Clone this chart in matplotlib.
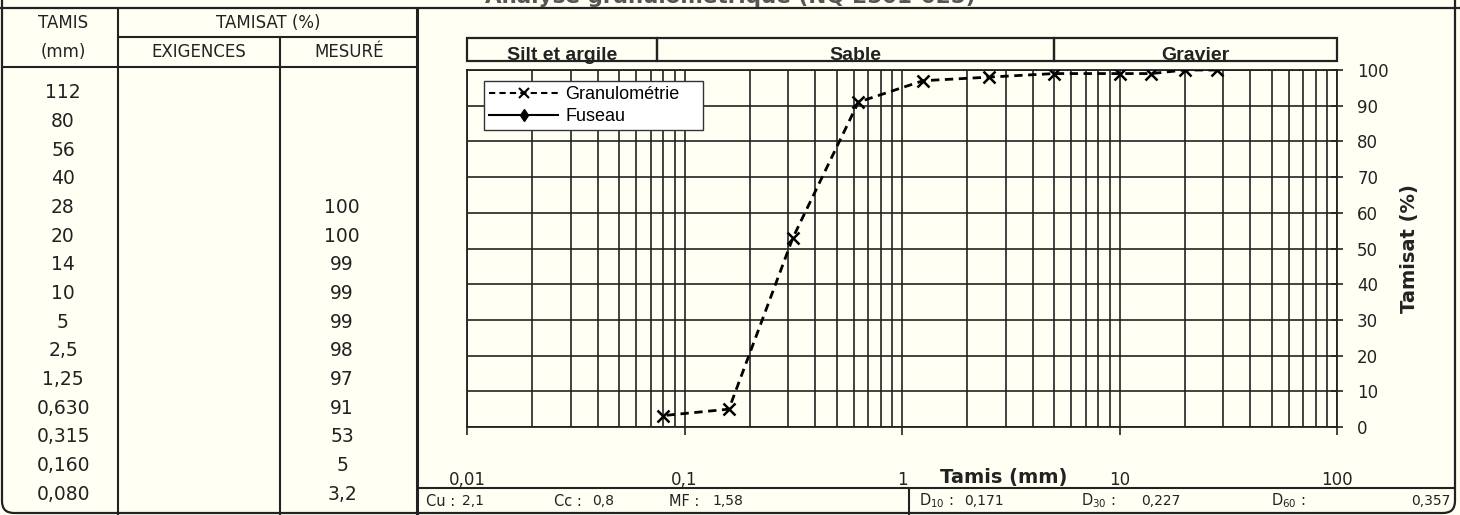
import numpy as np
import matplotlib
matplotlib.use('Agg')
import matplotlib.pyplot as plt
from matplotlib.patches import FancyBboxPatch, Rectangle
from matplotlib.lines import Line2D

# --- data ---
table_tamis = ['112', '80', '56', '40', '28', '20', '14', '10', '5',
               '2,5', '1,25', '0,630', '0,315', '0,160', '0,080']
table_mesure = ['', '', '', '', '100', '100', '99', '99', '99',
                '98', '97', '91', '53', '5', '3,2']

tamis_mm = [28, 20, 14, 10, 5, 2.5, 1.25, 0.63, 0.315, 0.16, 0.08]
tamisat = [100, 100, 99, 99, 99, 98, 97, 91, 53, 5, 3.2]

zone_names = ['Silt et argile', 'Sable', 'Gravier']
zone_edges = [0.01, 0.075, 5, 100]

stats_left = [('Cu :', '2,1'), ('Cc :', '0,8'), ('MF :', '1,58')]
stats_right = [('10', '0,171'), ('30', '0,227'), ('60', '0,357')]

title = 'Analyse granulométrique (NQ 2501-025)'

# --- page layout (pixels, origin top-left) ---
W, H = 1460, 515
BG = '#fffff4'
INK = '#222222'
ax_l, ax_r, ax_t, ax_b = 467, 1337, 70, 427

fig = plt.figure(figsize=(W / 100, H / 100), dpi=100, facecolor=BG)

bg = fig.add_axes([0, 0, 1, 1], zorder=0)
bg.set_xlim(0, W)
bg.set_ylim(H, 0)
bg.axis('off')

def hline(y, x0, x1, lw=1.5):
    bg.plot([x0, x1], [y, y], color=INK, lw=lw, solid_capstyle='butt')

def vline(x, y0, y1, lw=1.5):
    bg.plot([x, x], [y0, y1], color=INK, lw=lw, solid_capstyle='butt')

# outer frame with rounded bottom corners
bg.add_patch(FancyBboxPatch((2, -40), 1453, 553, boxstyle='round,pad=0,rounding_size=12',
                            fc='none', ec=INK, lw=1.6))
hline(8, 0, W, lw=1.6)
vline(118, 8, 515)
vline(280, 37, 515)
vline(417, 8, 515, lw=2.2)
hline(37, 118, 417)
hline(67, 2, 417)
hline(488, 417, 1455)
vline(909, 488, 515)

# title, mostly cropped by the top edge
bg.text(730, 3, title, ha='center', va='baseline', fontsize=15.5, fontweight='bold',
        color='#555555', family='DejaVu Sans')

# table header
tkw = dict(ha='center', va='center', color=INK, family='DejaVu Sans')
bg.text(63, 23, 'TAMIS', fontsize=12, **tkw)
bg.text(63, 52, '(mm)', fontsize=12, **tkw)
bg.text(268, 23, 'TAMISAT (%)', fontsize=12, **tkw)
bg.text(199, 52, 'EXIGENCES', fontsize=12, **tkw)
bg.text(349, 52, 'MESURÉ', fontsize=12, **tkw)

# table body
for i, (t, m) in enumerate(zip(table_tamis, table_mesure)):
    y = 93 + i * 28.65
    bg.text(63, y, t, fontsize=13.5, **tkw)
    bg.text(342, y, m, fontsize=13.5, **tkw)

# stats strip
lkw = dict(ha='left', va='center', color=INK, family='DejaVu Sans', fontsize=10.5)
vkw = dict(ha='left', va='center', color=INK, family='DejaVu Sans', fontsize=10)
for (lab, val), x0, x1 in zip(stats_left, [426, 554, 669], [462, 592, 712]):
    bg.text(x0, 501, lab, **lkw)
    bg.text(x1, 501, val, **vkw)
for (sub, val), x0, x1 in zip(stats_right, [919, 1081, 1271], [964, 1141, 1411]):
    bg.text(x0, 501, r'D$_{\mathregular{%s}}$ :' % sub, **lkw)
    bg.text(x1, 501, val, **vkw)

# --- grain size chart ---
ax = fig.add_axes([ax_l / W, 1 - ax_b / H, (ax_r - ax_l) / W, (ax_b - ax_t) / H], zorder=2)
ax.set_facecolor('none')
ax.set_xscale('log')
ax.set_xlim(0.01, 100)
ax.set_ylim(0, 100)

ax.grid(True, which='both', axis='x', color=INK, lw=1.2)
ax.grid(True, which='major', axis='y', color=INK, lw=1.2)
ax.set_axisbelow(True)
for sp in ax.spines.values():
    sp.set_color(INK)
    sp.set_linewidth(1.3)

ax.set_xticks([0.01, 0.1, 1, 10, 100])
ax.set_xticklabels(['0,01', '0,1', '1', '10', '100'])
ax.tick_params(axis='x', which='major', direction='out', length=6, width=1.2,
               color=INK, labelsize=12, labelcolor=INK, pad=26)
ax.tick_params(axis='x', which='minor', length=0)

ax.yaxis.tick_right()
ax.set_yticks(range(0, 101, 10))
ax.tick_params(axis='y', direction='inout', length=9, width=1.2, color=INK,
               labelsize=12, labelcolor=INK, pad=10)
ax.yaxis.set_label_position('right')
ax.set_ylabel('Tamisat (%)', fontsize=14, fontweight='bold', color=INK, labelpad=8)

ax.plot(tamis_mm, tamisat, color='black', ls=(0, (3, 2)), lw=2,
        marker='x', ms=8, mew=1.8, zorder=4)

fig.text(1004 / W, 1 - 478 / H, 'Tamis (mm)', ha='center', va='center', fontsize=14,
         fontweight='bold', color=INK)

# zone boxes above the plot
tr = ax.get_xaxis_transform()
zb, zt = (ax_b - 61) / (ax_b - ax_t), (ax_b - 38) / (ax_b - ax_t)
for name, a, b in zip(zone_names, zone_edges[:-1], zone_edges[1:]):
    r = Rectangle((a, zb), b - a, zt - zb, transform=tr, fc='none', ec=INK, lw=1.6,
                  clip_on=False, zorder=5)
    ax.add_patch(r)
    t = ax.text(np.sqrt(a * b), zb + 0.002, name, transform=tr, ha='center', va='baseline',
                fontsize=14, fontweight='bold', family='Liberation Sans', color=INK, zorder=4)
    t.set_clip_path(r)

# legend box spans 484..703 px across, 81..128 px down
lx0 = (484 - ax_l) / (ax_r - ax_l)
lx1 = (703 - ax_l) / (ax_r - ax_l)
ly0 = (ax_b - 128) / (ax_b - ax_t)
ly1 = (ax_b - 81) / (ax_b - ax_t)
handles = [Line2D([], [], color='black', ls=(0, (3, 2)), lw=1.5, marker='x', ms=7, mew=1.5),
           Line2D([], [], color='black', ls='-', lw=1.5, marker='d', ms=6)]
leg = ax.legend(handles, ['Granulométrie', 'Fuseau'], loc='upper left',
                bbox_to_anchor=(lx0, ly0, lx1 - lx0, ly1 - ly0), mode='expand',
                frameon=True, fancybox=False, edgecolor='#333333', framealpha=1,
                facecolor='white', handlelength=3.8, borderpad=0.3, labelspacing=0.25,
                handletextpad=0.4, borderaxespad=0,
                prop={'family': 'Liberation Sans', 'size': 13})
leg.get_frame().set_linewidth(1.0)
leg.set_zorder(6)

fig.savefig('out.png', dpi=100, facecolor=BG)
